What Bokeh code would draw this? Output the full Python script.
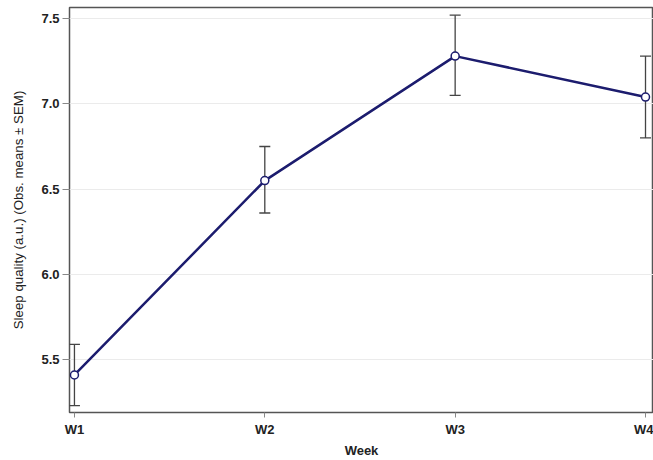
from bokeh.plotting import figure
from bokeh.models import Whisker, ColumnDataSource, FixedTicker, Range1d, TeeHead
from bokeh.embed import file_html
from bokeh.resources import INLINE

weeks = ["W1", "W2", "W3", "W4"]
means = [5.41, 6.55, 7.28, 7.04]
upper = [5.59, 6.75, 7.52, 7.28]
lower = [5.23, 6.36, 7.05, 6.80]
y_ticks = [5.5, 6.0, 6.5, 7.0, 7.5]

xs = list(range(1, len(weeks) + 1))
src = ColumnDataSource(data=dict(x=xs, y=means, upper=upper, lower=lower))

p = figure(width=653, height=460, output_backend="svg", toolbar_location=None,
           x_range=Range1d(0.974, 4.042), y_range=Range1d(5.19, 7.565),
           min_border_left=69, min_border_right=0, min_border_top=7, min_border_bottom=48)

p.outline_line_color = "#555555"
p.outline_line_width = 1.5

p.xgrid.visible = False
p.ygrid.grid_line_color = "#ebebeb"
p.ygrid.grid_line_width = 1

p.yaxis.ticker = FixedTicker(ticks=y_ticks)
p.yaxis.major_label_overrides = {t: f"{t:.1f}" for t in y_ticks}
p.xaxis.ticker = FixedTicker(ticks=xs)
p.xaxis.major_label_overrides = {x: w for x, w in zip(xs, weeks)}

for ax in (p.xaxis[0], p.yaxis[0]):
    ax.axis_line_color = None
    ax.minor_tick_line_color = None
    ax.major_tick_in = 0
    ax.major_tick_line_color = "#888888"
    ax.major_label_text_font = "Liberation Sans"
    ax.major_label_text_font_style = "bold"
    ax.major_label_text_font_size = "13px"
    ax.major_label_text_color = "#222222"
    ax.axis_label_text_font = "Liberation Sans"
    ax.axis_label_text_color = "#222222"

p.xaxis.major_tick_out = 5
p.yaxis.major_tick_out = 7
p.xaxis.major_label_standoff = 4
p.yaxis.major_label_standoff = 3
p.xaxis.axis_label = "Week"
p.xaxis.axis_label_text_font_style = "bold"
p.xaxis.axis_label_text_font_size = "13px"
p.xaxis.axis_label_standoff = 3
p.yaxis.axis_label = "Sleep quality (a.u.) (Obs. means ± SEM)"
p.yaxis.axis_label_text_font_style = "normal"
p.yaxis.axis_label_text_font_size = "13.3px"
p.yaxis.axis_label_standoff = 12

w = Whisker(source=src, base="x", upper="upper", lower="lower",
            line_color="#444444", line_width=1.3,
            upper_head=TeeHead(size=11, line_color="#444444", line_width=1.3),
            lower_head=TeeHead(size=11, line_color="#444444", line_width=1.3))
p.add_layout(w)

p.line("x", "y", source=src, line_color="#1c1c6e", line_width=2.5)
p.scatter("x", "y", source=src, size=8, marker="circle", fill_color="white",
          line_color="#1c1c6e", line_width=1.5)

open("out.html", "w").write(file_html(p, INLINE))
